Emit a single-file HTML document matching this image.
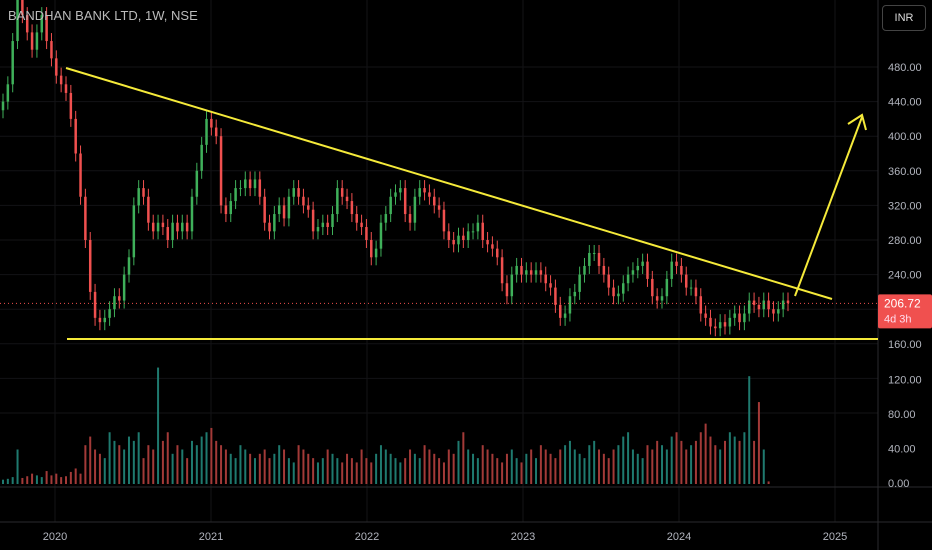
<!DOCTYPE html>
<html><head><meta charset="utf-8"><style>
body{margin:0;background:#000;width:932px;height:550px;overflow:hidden;font-family:"Liberation Sans",sans-serif}
svg{display:block}
</style></head><body>
<svg id="c" width="932" height="550">
</svg>
<script>
const closes=[440,460,510,560,540,520,500,520,540,510,490,470,460,450,420,380,330,280,220,190,185,190,200,215,210,240,260,320,340,330,300,290,300,295,280,300,290,300,290,330,360,390,420,410,400,320,310,325,340,340,350,340,350,330,300,290,310,320,305,330,340,330,320,315,290,295,300,295,310,340,330,325,310,300,295,280,260,270,300,310,330,335,340,310,300,330,340,335,330,320,315,290,280,275,285,280,290,290,300,280,275,270,260,230,215,240,250,240,245,240,245,240,230,225,205,190,195,215,220,240,250,265,265,250,240,225,215,218,230,240,245,250,255,235,215,210,215,235,255,250,240,225,225,215,195,190,180,178,185,180,190,195,185,195,210,205,200,210,200,195,200,210,207];
const volumes=[5,6,8,40,7,9,12,10,8,15,10,12,8,9,14,18,12,45,55,40,35,30,60,50,45,40,55,50,60,30,45,40,135,50,60,35,45,40,30,50,45,55,60,65,50,45,40,35,30,45,40,35,30,35,40,30,35,45,40,30,25,45,40,35,30,25,30,40,35,30,25,35,30,25,40,30,25,35,45,40,35,30,25,30,40,35,30,45,40,35,30,25,40,35,50,60,40,35,30,45,40,35,30,25,35,40,30,25,35,40,30,45,40,35,30,40,45,50,40,35,30,45,50,40,35,30,40,45,55,60,40,35,30,45,40,50,45,40,55,60,50,40,45,50,60,70,55,45,40,50,60,55,50,60,125,50,95,40,3];
const priceTicks=[480,440,400,360,320,280,240,160];
const volTicks=[120,80,40,0];
const yearLabels=["2020","2021","2022","2023","2024","2025"];
const yearVals=[2020,2021,2022,2023,2024,2025];
const lastPrice=206.72;

const NS="http://www.w3.org/2000/svg";
const svg=document.getElementById('c');
function el(t,a,p){const e=document.createElementNS(NS,t);for(const k in a)e.setAttribute(k,a[k]);(p||svg).appendChild(e);return e;}
const py=p=>67+(480-p)*0.865;
const vy=v=>484-v*0.8625;
const yx=y=>55+(y-2020)*156;
const cx=i=>3+i*785/(closes.length-1);

priceTicks.concat([200,120,80]).forEach(t=>{const g=el('line',{x1:0,x2:878,y1:py(t),y2:py(t),stroke:'#131316','stroke-width':1});});
yearVals.forEach(y=>{const g=el('line',{x1:yx(y),x2:yx(y),y1:0,y2:522,stroke:'#131316','stroke-width':1});});

closes.forEach((c,i)=>{
 const o=i?closes[i-1]:c-10;
 const up=c>=o;const col=up?'#3fb05a':'#f0504f';
 const hi=Math.max(o,c),lo=Math.min(o,c);
 const w=el('line',{x1:cx(i),x2:cx(i),y1:py(hi)-8,y2:py(lo)+8,stroke:col,'stroke-width':1});
 
 
 const r=el('rect',{x:cx(i)-1.25,y:py(hi),width:2.5,height:Math.max(1,py(lo)-py(hi)),fill:col});
 
 
});
volumes.forEach((v,i)=>{
 const o=i?closes[i-1]:closes[0]-10;const up=closes[i]>=o;
 const r=el('rect',{x:cx(i)-1,y:vy(v),width:2,height:484-vy(v),fill:up?'#1f7a6f':'#a33a38'});
 
 
});
el('line',{x1:0,x2:932,y1:487,y2:487,stroke:'#2a2a2e','stroke-width':1});
el('line',{x1:0,x2:932,y1:522,y2:522,stroke:'#2a2a2e','stroke-width':1});
el('line',{x1:878,x2:878,y1:0,y2:550,stroke:'#2a2a2e','stroke-width':1});
const d=el('line',{x1:0,x2:878,y1:py(lastPrice),y2:py(lastPrice),stroke:'#f0504f','stroke-width':1,'stroke-dasharray':'1,3'});

const t1=el('line',{x1:66,y1:68,x2:832,y2:299,stroke:'#f5ea3a','stroke-width':2});

const t2=el('line',{x1:67,y1:339,x2:878,y2:339,stroke:'#f5ea3a','stroke-width':2});

const a=el('polyline',{points:'795,296 862,117',stroke:'#f5ea3a','stroke-width':2,fill:'none'});

el('polyline',{points:'848,124 862,115 866,130',stroke:'#f5ea3a','stroke-width':2,fill:'none'});
priceTicks.forEach(t=>{const x=el('text',{x:888,y:py(t)+4,fill:'#b2b5be','font-size':11});x.textContent=t.toFixed(2);});
volTicks.forEach(t=>{const x=el('text',{x:888,y:vy(t)+3,fill:'#b2b5be','font-size':11});x.textContent=t.toFixed(2);});
yearLabels.forEach((l,i)=>{const x=el('text',{x:yx(yearVals[i]),y:540,fill:'#b2b5be','font-size':11,'text-anchor':'middle'});x.textContent=l;});
const b=el('rect',{x:878,y:py(lastPrice)-9,width:54,height:34,fill:'#f0504f',rx:2});

const bt=el('text',{x:884,y:py(lastPrice)+4,fill:'#fff','font-size':12});bt.textContent=lastPrice.toFixed(2);
const bt2=el('text',{x:884,y:py(lastPrice)+19,fill:'#fde','font-size':11});bt2.textContent='4d 3h';
</script>
<div style="position:absolute;left:8px;top:8px;color:#bbb;font-size:13px">BANDHAN BANK LTD, 1W, NSE</div>
<div style="position:absolute;left:882px;top:5px;width:42px;height:24px;border:1px solid #444;border-radius:4px;background:#000;color:#ddd;font-size:11px;line-height:24px;text-align:center">INR</div>
</body></html>
